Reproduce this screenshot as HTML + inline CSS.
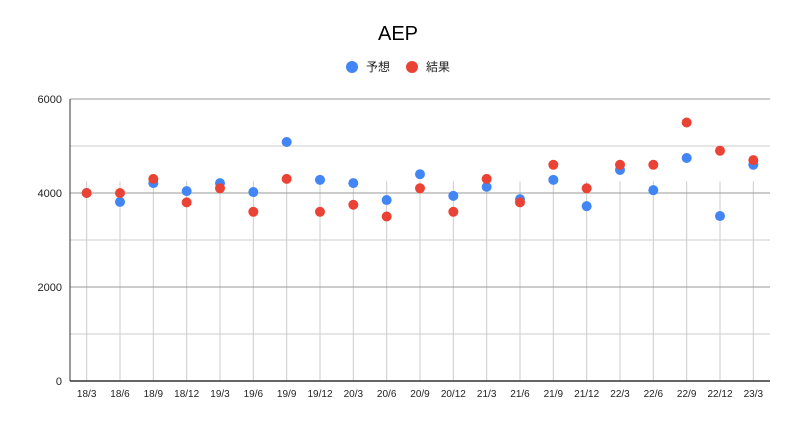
<!DOCTYPE html>
<html><head><meta charset="utf-8"><style>
body{margin:0;background:#fff;}
svg text{font-family:"Liberation Sans","Noto Sans CJK JP",sans-serif;}
</style></head><body>
<svg width="797" height="428" id="c">
<rect width="797" height="428" fill="#fff"/>
<text x="398" y="40" text-anchor="middle" font-size="20" fill="#000">AEP</text>
<g>
<circle cx="352" cy="67" r="6" fill="#4285f4"/>
<text x="366" y="71" font-size="12" fill="#222">予想</text>
<circle cx="412" cy="67" r="6" fill="#ea4335"/>
<text x="426" y="71" font-size="12" fill="#222">結果</text>
</g>
<g id="grid"></g><g id="marks"></g>
</svg>
<script>
const categories=["18/3","18/6","18/9","18/12","19/3","19/6","19/9","19/12","20/3","20/6","20/9","20/12","21/3","21/6","21/9","21/12","22/3","22/6","22/9","22/12","23/3"];
const forecast=[4000,3810,4210,4040,4210,4020,5085,4280,4210,3850,4400,3940,4130,3870,4280,3720,4490,4060,4745,3510,4600];
const result=[4000,4000,4300,3800,4100,3600,4300,3600,3750,3500,4100,3600,4300,3800,4600,4100,4600,4600,5500,4900,4700];
const yTicks=[0,2000,4000,6000];
const yMinor=[1000,3000,5000];
const NS="http://www.w3.org/2000/svg";
const x0=70,x1=770,yTop=99,yBot=381,yMax=6000;
const y=v=>yBot-(v/yMax)*(yBot-yTop);
const step=(x1-x0)/categories.length;
const x=i=>x0+step*(i+0.5);
const grid=document.getElementById('grid'),marks=document.getElementById('marks');
function mk(tag,a,p){const e=document.createElementNS(NS,tag);for(const k in a)e.setAttribute(k,a[k]);p.appendChild(e);return e;}
yMinor.forEach(v=>{const l=mk('line',{x1:x0,x2:x1,y1:y(v),y2:y(v),stroke:'#ccc','stroke-width':1},grid);

});
categories.forEach((c,i)=>{const l=mk('line',{x1:x(i),x2:x(i),y1:y(4250),y2:yBot,stroke:'#ccc','stroke-width':1},grid);


const t=mk('text',{x:x(i),y:397,'text-anchor':'middle','font-size':10,fill:'#222'},grid);t.textContent=c;

});
yTicks.forEach(v=>{if(v>0){const l=mk('line',{x1:x0,x2:x1,y1:y(v),y2:y(v),stroke:'#999','stroke-width':1},grid);

}
const t=mk('text',{x:62,y:y(v)+4,'text-anchor':'end','font-size':11,fill:'#222'},grid);t.textContent=v;

});
const ax=mk('line',{x1:x0,x2:x1,y1:yBot,y2:yBot,stroke:'#333','stroke-width':1.5},grid);


const ay=mk('line',{x1:x0,x2:x0,y1:yTop,y2:yBot,stroke:'#333','stroke-width':1},grid);


forecast.forEach((v,i)=>{const c=mk('circle',{cx:x(i),cy:y(v),r:5,fill:'#4285f4'},marks);

});
result.forEach((v,i)=>{const c=mk('circle',{cx:x(i),cy:y(v),r:5,fill:'#ea4335'},marks);

});
</script>
</body></html>
